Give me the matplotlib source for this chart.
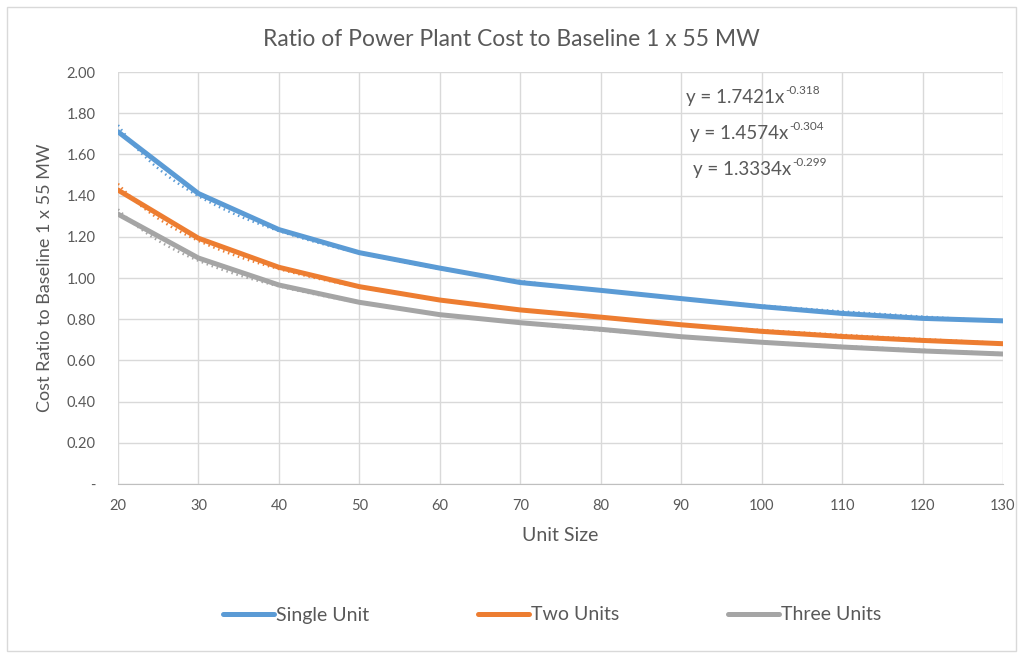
import numpy as np
import matplotlib
matplotlib.use("Agg")
import matplotlib.pyplot as plt
from matplotlib.patches import Rectangle

plt.rcParams['font.family'] = ['Lato', 'DejaVu Sans']

unit_size = [20, 30, 40, 50, 60, 70, 80, 90, 100, 110, 120, 130]
single_unit = [1.71, 1.41, 1.235, 1.123, 1.048, 0.978, 0.94, 0.90, 0.861, 0.828, 0.804, 0.792]
two_units = [1.427, 1.193, 1.052, 0.958, 0.893, 0.845, 0.81, 0.773, 0.741, 0.716, 0.697, 0.681]
three_units = [1.31, 1.097, 0.966, 0.882, 0.822, 0.783, 0.751, 0.715, 0.688, 0.665, 0.646, 0.631]

# Excel power trendline coefficients (x = point index 1..n)
trend_a = [1.7421, 1.4574, 1.3334]
trend_b = [-0.318, -0.304, -0.299]
trend_base = ["y = 1.7421x", "y = 1.4574x", "y = 1.3334x"]
trend_exp = ["-0.318", "-0.304", "-0.299"]

series_names = ["Single Unit", "Two Units", "Three Units"]
colors = ["#5B9BD5", "#ED7D31", "#A5A5A5"]
yticks = [0, 0.2, 0.4, 0.6, 0.8, 1.0, 1.2, 1.4, 1.6, 1.8, 2.0]
ytick_labels = ["-" if v == 0 else f"{v:.2f}" for v in yticks]

text_color = "#595959"

fig = plt.figure(figsize=(10.23, 6.57), dpi=100)
fig.patches.append(Rectangle((7/1023, 1-651/657), 1-14/1023, (651-7)/657,
                             transform=fig.transFigure, fill=False,
                             edgecolor="#D9D9D9", linewidth=1.0))
ax = fig.add_axes([118/1023, 1-484/657, (1003-118)/1023, (484-72)/657])

data = [single_unit, two_units, three_units]
n = len(unit_size)
idx_fine = np.linspace(1, n, 400)
x_fine = np.interp(idx_fine, np.arange(1, n + 1), unit_size)
for name, vals, c, a, b in zip(series_names, data, colors, trend_a, trend_b):
    ax.plot(unit_size, vals, color=c, linewidth=3.6, solid_capstyle='round', label=name, zorder=3)
    ax.plot(x_fine, a * idx_fine ** b, color=c, linewidth=1.8, linestyle=(0, (0.6, 1.5)), zorder=4)

ax.set_xlim(20, 130)
ax.set_ylim(0, 2.0)
ax.set_xticks(unit_size)
ax.set_yticks(yticks)
ax.set_yticklabels(ytick_labels)
ax.grid(True, color="#D9D9D9", linewidth=1.0, zorder=0)
for s in ["top", "right", "left"]:
    ax.spines[s].set_visible(False)
ax.spines["bottom"].set_color("#BFBFBF")
ax.tick_params(length=0, colors=text_color, labelsize=10.5)
ax.tick_params(axis='x', pad=11)
ax.tick_params(axis='y', pad=16)

ax.set_xlabel("Unit Size", color=text_color, fontsize=14, labelpad=10)
ax.set_ylabel("Cost Ratio to Baseline 1 x 55 MW", color=text_color, fontsize=13, labelpad=10)
fig.text(0.5, 1-40/657, "Ratio of Power Plant Cost to Baseline 1 x 55 MW",
         ha="center", va="center", color=text_color, fontsize=16.5)

fig.canvas.draw()
renderer = fig.canvas.get_renderer()
eq_pos = [(686, 98), (690, 133), (693, 170)]
for (px, py), base, ex in zip(eq_pos, trend_base, trend_exp):
    t = fig.text(px/1023, 1-py/657, base, ha="left", va="center", color=text_color, fontsize=13.5)
    bb = t.get_window_extent(renderer)
    fig.text(bb.x1/1023 + 1/1023, 1-(py-7)/657, ex, ha="left", va="center",
             color=text_color, fontsize=8.5)

leg = fig.legend(loc="center", bbox_to_anchor=(0.54, 1-615/657), ncol=3, frameon=False,
                 fontsize=14, handlelength=2.6, handletextpad=0.12, columnspacing=5.6)
for t in leg.get_texts():
    t.set_color(text_color)
for h in leg.get_lines():
    h.set_linewidth(3.6)

fig.savefig("out.png", dpi=100)
